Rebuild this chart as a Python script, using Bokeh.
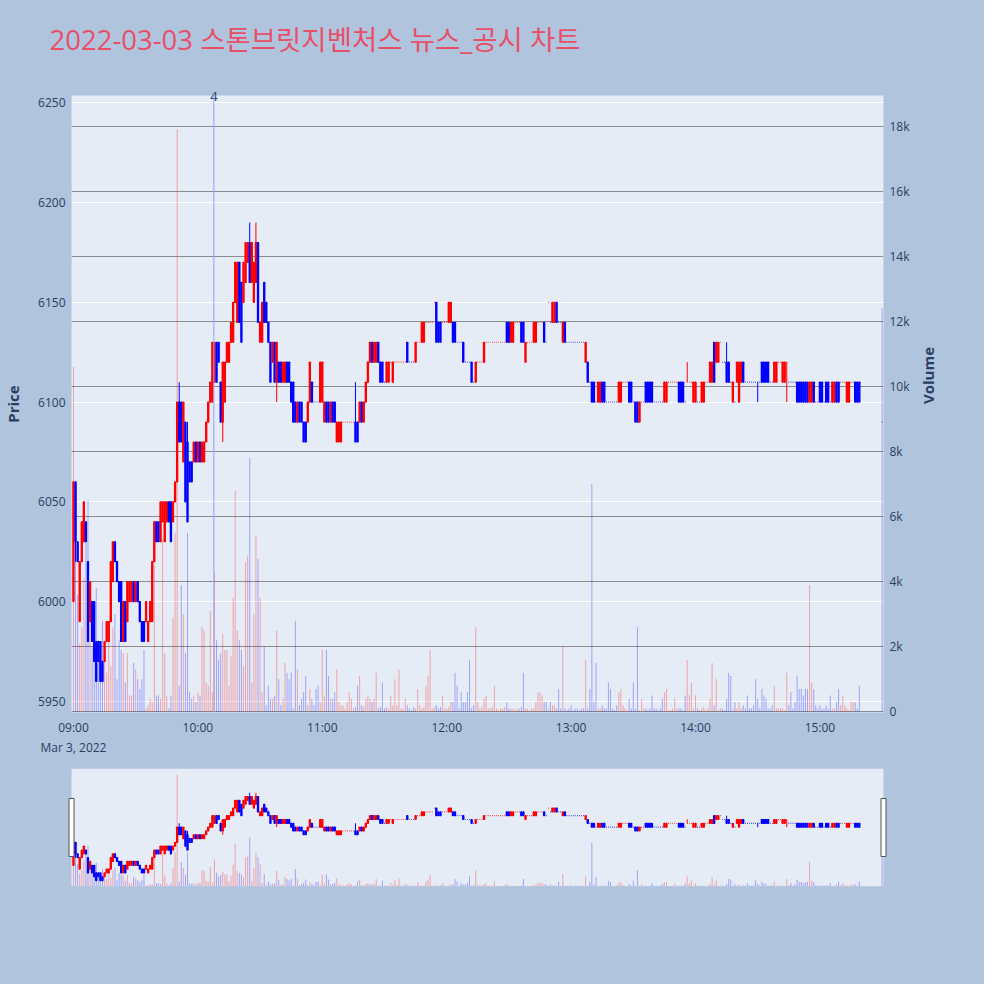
import math
from bokeh.plotting import figure
from bokeh.models import ColumnDataSource, Range1d, LinearAxis, FixedTicker, Grid, Span
from bokeh.layouts import column
from bokeh.embed import file_html
from bokeh.resources import INLINE

title_text = "2022-03-03 스톤브릿지벤처스 뉴스_공시 차트"

# minute offsets from 09:00 (continuous session 09:00-15:19, closing auction 15:30)
minutes = list(range(0, 380)) + [390]

opens = [
    6000, 6060, 6030, 5990, 6020, 6030, 6040, 6020, 5990, 6000,
    6000, 5980, 5980, 5980, 5970, 5970, 5980, 5980, 5990, 6010,
    6030, 6020, 6010, 6010, 5980, 6000, 5990, 6000, 6000, 6010,
    6000, 6010, 6000, 5990, 5990, 5990, 5980, 5990, 5990, 6020,
    6040, 6040, 6030, 6040, 6030, 6040, 6050, 6050, 6040, 6050,
    6060, 6100, 6100, 6070, 6090, 6080, 6070, 6070, 6070, 6080,
    6070, 6080, 6070, 6070, 6080, 6090, 6100, 6100, 6110, 6130,
    6130, 6110, 6090, 6100, 6120, 6120, 6130, 6130, 6150, 6140,
    6170, 6160, 6150, 6160, 6170, 6180, 6160, 6150, 6160, 6180,
    6130, 6130, 6160, 6150, 6140, 6130, 6120, 6130, 6110, 6120,
    6120, 6110, 6110, 6120, 6120, 6110, 6110, 6100, 6090, 6100,
    6100, 6090, 6090, 6090, 6100, 6110, 6100, 6100, 6100, 6100,
    6100, 6090, 6100, 6100, 6090, 6100, 6100, 6080, 6080, 6080,
    6090, 6090, 6090, 6090, 6090, 6090, 6090, 6090, 6090, 6100,
    6090, 6100, 6110, 6120, 6130, 6120, 6120, 6130, 6120, 6120,
    6110, 6110, 6110, 6120, 6110, 6120, 6120, 6120, 6120, 6120,
    6120, 6130, 6120, 6120, 6120, 6120, 6130, 6130, 6130, 6130,
    6140, 6140, 6140, 6140, 6150, 6150, 6140, 6140, 6140, 6140,
    6140, 6140, 6140, 6140, 6140, 6130, 6130, 6130, 6130, 6120,
    6120, 6120, 6120, 6110, 6110, 6120, 6120, 6120, 6120, 6130,
    6130, 6130, 6130, 6130, 6130, 6130, 6130, 6130, 6130, 6140,
    6140, 6130, 6130, 6140, 6140, 6140, 6140, 6140, 6120, 6130,
    6130, 6130, 6130, 6130, 6140, 6140, 6140, 6140, 6130, 6150,
    6140, 6140, 6140, 6150, 6140, 6140, 6130, 6140, 6130, 6130,
    6130, 6130, 6130, 6130, 6130, 6130, 6130, 6120, 6120, 6110,
    6110, 6110, 6100, 6100, 6100, 6110, 6110, 6100, 6100, 6100,
    6100, 6100, 6100, 6100, 6100, 6110, 6110, 6110, 6110, 6110,
    6100, 6100, 6100, 6090, 6100, 6100, 6110, 6110, 6110, 6110,
    6100, 6100, 6100, 6100, 6100, 6100, 6100, 6110, 6110, 6110,
    6110, 6110, 6110, 6110, 6110, 6100, 6110, 6110, 6110, 6100,
    6100, 6100, 6100, 6100, 6100, 6110, 6110, 6110, 6110, 6130,
    6120, 6120, 6130, 6120, 6120, 6120, 6120, 6110, 6100, 6100,
    6110, 6100, 6110, 6120, 6110, 6110, 6110, 6110, 6110, 6110,
    6110, 6110, 6120, 6120, 6120, 6120, 6110, 6110, 6110, 6110,
    6120, 6120, 6110, 6110, 6120, 6110, 6110, 6110, 6110, 6110,
    6110, 6110, 6110, 6110, 6110, 6100, 6100, 6110, 6100, 6100,
    6110, 6110, 6100, 6110, 6110, 6100, 6100, 6100, 6110, 6110,
    6110, 6110, 6110, 6100, 6100, 6110, 6110, 6110, 6110, 6110,
    6090,
]

closes = [
    6060, 6030, 6020, 6020, 6040, 6050, 6030, 5980, 6010, 5980,
    5970, 5960, 5970, 5960, 5960, 5980, 5990, 5990, 6020, 6030,
    6020, 6010, 6000, 5980, 6000, 5980, 6010, 6010, 6010, 6000,
    6010, 6000, 5990, 5980, 5980, 6000, 5990, 6000, 6020, 6040,
    6030, 6030, 6050, 6050, 6050, 6050, 6040, 6030, 6050, 6060,
    6100, 6080, 6080, 6100, 6050, 6040, 6060, 6060, 6080, 6070,
    6080, 6070, 6080, 6080, 6090, 6100, 6110, 6130, 6130, 6110,
    6120, 6090, 6120, 6120, 6130, 6130, 6140, 6150, 6170, 6170,
    6140, 6130, 6170, 6180, 6180, 6160, 6180, 6170, 6180, 6140,
    6140, 6150, 6140, 6140, 6130, 6110, 6130, 6110, 6130, 6110,
    6110, 6120, 6120, 6110, 6110, 6100, 6090, 6090, 6100, 6090,
    6090, 6080, 6080, 6100, 6120, 6100, 6100, 6100, 6100, 6120,
    6120, 6100, 6090, 6090, 6100, 6090, 6090, 6090, 6090, 6090,
    6090, 6090, 6090, 6090, 6090, 6090, 6080, 6080, 6100, 6090,
    6100, 6110, 6120, 6130, 6120, 6130, 6130, 6120, 6110, 6110,
    6110, 6120, 6120, 6120, 6120, 6120, 6120, 6120, 6120, 6120,
    6120, 6120, 6120, 6120, 6120, 6130, 6130, 6130, 6140, 6140,
    6140, 6140, 6140, 6140, 6150, 6130, 6130, 6130, 6140, 6140,
    6140, 6150, 6150, 6130, 6130, 6130, 6130, 6130, 6120, 6120,
    6120, 6120, 6110, 6110, 6120, 6120, 6120, 6120, 6130, 6130,
    6130, 6130, 6130, 6130, 6130, 6130, 6130, 6130, 6130, 6130,
    6130, 6140, 6140, 6140, 6140, 6140, 6130, 6130, 6130, 6130,
    6130, 6130, 6140, 6140, 6140, 6140, 6140, 6130, 6130, 6150,
    6140, 6150, 6150, 6140, 6140, 6140, 6140, 6130, 6130, 6130,
    6130, 6130, 6130, 6130, 6130, 6130, 6130, 6130, 6110, 6110,
    6100, 6100, 6100, 6110, 6110, 6100, 6100, 6100, 6100, 6100,
    6100, 6100, 6100, 6110, 6110, 6110, 6110, 6110, 6100, 6100,
    6100, 6090, 6090, 6100, 6100, 6100, 6100, 6100, 6100, 6100,
    6100, 6100, 6100, 6100, 6100, 6110, 6110, 6110, 6110, 6110,
    6110, 6110, 6100, 6100, 6100, 6100, 6110, 6110, 6110, 6110,
    6110, 6100, 6100, 6110, 6110, 6110, 6110, 6120, 6120, 6110,
    6130, 6130, 6130, 6120, 6120, 6110, 6110, 6110, 6110, 6100,
    6120, 6120, 6120, 6110, 6110, 6110, 6110, 6110, 6110, 6110,
    6110, 6110, 6110, 6110, 6110, 6110, 6110, 6110, 6120, 6120,
    6120, 6120, 6120, 6120, 6120, 6110, 6110, 6110, 6110, 6100,
    6100, 6100, 6100, 6100, 6100, 6110, 6110, 6100, 6100, 6100,
    6100, 6100, 6100, 6100, 6100, 6100, 6110, 6110, 6100, 6100,
    6110, 6110, 6110, 6110, 6110, 6110, 6110, 6100, 6100, 6100,
    6090,
]

# wick extremes that reach beyond the candle body (minute -> price)
wick_highs = {51: 6110, 55: 6090, 85: 6190, 88: 6190, 136: 6110, 296: 6120, 315: 6130}
wick_lows = {1: 6020, 72: 6080, 98: 6100, 330: 6100, 344: 6100}

volumes = [
    10600, 5000, 3600, 2100, 2600, 4100, 5300, 6500, 3800, 2000,
    3200, 3800, 2200, 1500, 2800, 1600, 1200, 2400, 1400, 2600,
    3000, 1000, 2200, 1900, 1800, 900, 1800, 500, 500, 1500,
    1300, 1000, 700, 1000, 1900, 100, 200, 400, 300, 4500,
    500, 500, 400, 5300, 1800, 500, 100, 500, 2900, 5500,
    17900, 800, 3900, 3000, 1800, 5500, 600, 400, 500, 300,
    600, 500, 2600, 2500, 900, 800, 3100, 600, 4300, 2200,
    1600, 1800, 2400, 1900, 1900, 800, 1700, 3500, 6800, 2500,
    2200, 1900, 1400, 4600, 4800, 7800, 900, 3000, 5400, 4700,
    3500, 600, 2000, 200, 800, 400, 400, 500, 2500, 1000,
    200, 400, 1500, 1200, 1000, 1200, 100, 2800, 1300, 200,
    400, 600, 1100, 200, 700, 400, 200, 700, 800, 300,
    1900, 500, 1900, 1100, 400, 400, 600, 1300, 300, 200,
    200, 100, 300, 600, 400, 100, 150, 800, 1100, 200,
    150, 400, 500, 400, 300, 400, 1200, 100, 150, 900,
    100, 150, 100, 500, 200, 1000, 200, 1300, 100, 100,
    400, 200, 100, 50, 150, 100, 700, 200, 100, 150,
    800, 1100, 1900, 100, 150, 200, 100, 150, 500, 100,
    100, 150, 300, 300, 1200, 800, 100, 600, 300, 300,
    600, 1600, 100, 200, 2600, 300, 100, 150, 400, 500,
    100, 100, 150, 800, 100, 50, 100, 100, 150, 300,
    100, 100, 100, 50, 100, 100, 150, 1200, 100, 100,
    50, 100, 100, 300, 600, 600, 500, 300, 300, 100,
    300, 200, 200, 100, 700, 100, 2000, 100, 50, 100,
    200, 50, 100, 100, 50, 100, 100, 1600, 100, 700,
    7000, 300, 1500, 100, 100, 200, 100, 100, 900, 700,
    100, 50, 200, 600, 700, 200, 100, 50, 400, 100,
    900, 100, 2600, 50, 400, 100, 100, 50, 100, 500,
    100, 100, 50, 100, 400, 600, 700, 50, 50, 100,
    400, 100, 100, 100, 50, 500, 1600, 500, 900, 100,
    500, 100, 50, 100, 150, 50, 100, 400, 1500, 200,
    1000, 50, 100, 100, 50, 400, 1200, 1100, 100, 300,
    100, 300, 100, 200, 100, 500, 100, 100, 200, 1000,
    400, 100, 700, 500, 400, 100, 100, 200, 800, 100,
    100, 100, 100, 50, 1200, 200, 600, 100, 300, 1100,
    700, 700, 500, 700, 700, 3900, 900, 700, 200, 100,
    200, 100, 100, 200, 100, 500, 100, 100, 300, 700,
    200, 500, 200, 100, 50, 300, 300, 300, 100, 800,
    12400,
]

price_ticks = [5950, 6000, 6050, 6100, 6150, 6200, 6250]
volume_ticks = [0, 2000, 4000, 6000, 8000, 10000, 12000, 14000, 16000, 18000]
volume_tick_labels = ["0", "2k", "4k", "6k", "8k", "10k", "12k", "14k", "16k", "18k"]
hour_ticks = [0, 60, 120, 180, 240, 300, 360]
hour_labels = ["09:00\nMar 3, 2022", "10:00", "11:00", "12:00", "13:00", "14:00", "15:00"]
news_minutes = [67.7]
news_labels = ["4"]

assert len(opens) == len(closes) == len(volumes) == len(minutes)

RED, BLUE = "#ff0000", "#0000ff"
PAPER, PLOTBG, FONT_C = "#b0c4de", "#e5ecf6", "#2a3f5f"

colors = []
prev_c, prev_col = None, RED
for o, c in zip(opens, closes):
    if c > o:
        col = RED
    elif c < o:
        col = BLUE
    elif prev_c is None or c == prev_c:
        col = prev_col
    else:
        col = RED if c > prev_c else BLUE
    colors.append(col)
    prev_c, prev_col = c, col

highs = [wick_highs.get(m, max(o, c)) for m, o, c in zip(minutes, opens, closes)]
lows = [wick_lows.get(m, min(o, c)) for m, o, c in zip(minutes, opens, closes)]
tops = [max(o, c) for o, c in zip(opens, closes)]
bottoms = [min(o, c) for o, c in zip(opens, closes)]
body_w = [0.55 if o != c else 0.3 for o, c in zip(opens, closes)]

src = ColumnDataSource(dict(x=minutes, top=tops, bottom=bottoms, high=highs, low=lows,
                            color=colors, vol=volumes, bw=body_w))

X0, X1 = -0.95, 390.66
P0, P1 = 5944.4, 6253.7
V0, V1 = -20, 18940

FRAME_W = 812
PX_PER_MIN = FRAME_W / (X1 - X0)


def style_blank(fig):
    fig.background_fill_color = PAPER
    fig.border_fill_color = PAPER
    fig.outline_line_color = None
    fig.grid.visible = False
    fig.frame_align = False


def draw(fig):
    fig.vbar(x="x", bottom=0, top="vol", width=0.5, y_range_name="vol",
             fill_color="color", fill_alpha=0.3, line_color=None, source=src)
    fig.segment(x0="x", y0="low", x1="x", y1="high", line_color="color",
                line_width=1, source=src)
    fig.vbar(x="x", bottom="bottom", top="top", width="bw", fill_color="color",
             line_color="color", line_width=1.2, source=src)


# ---- header strip carrying the chart title
hdr = figure(width=984, height=70, x_range=Range1d(0, 1), y_range=Range1d(0, 1),
             output_backend="svg", toolbar_location=None, title=title_text,
             x_axis_location=None, y_axis_location=None,
             min_border_left=50, min_border_right=10, min_border_top=60, min_border_bottom=0)
style_blank(hdr)
hdr.title.text_font = "Open Sans, Noto Sans CJK KR"
hdr.title.text_font_size = "27.5px"
hdr.title.text_font_style = "normal"
hdr.title.text_color = "#e8506a"
hdr.title.align = "left"
hdr.title.offset = -1
hdr.title.standoff = 5

# ---- main price / volume chart
p = figure(width=984, height=688, x_range=Range1d(X0, X1), y_range=Range1d(P0, P1),
           output_backend="svg", toolbar_location=None,
           min_border_left=71, min_border_right=101, min_border_top=25, min_border_bottom=41)
p.extra_y_ranges = {"vol": Range1d(V0, V1)}
p.background_fill_color = PLOTBG
p.border_fill_color = PAPER
p.outline_line_color = None
p.frame_align = False

time_axis = p.below[0]
price_axis = p.left[0]
time_axis.ticker = FixedTicker(ticks=hour_ticks)
time_axis.major_label_overrides = dict(zip(hour_ticks, hour_labels))
price_axis.ticker = FixedTicker(ticks=price_ticks)
price_axis.axis_label = "Price"

vol_axis = LinearAxis(y_range_name="vol", ticker=FixedTicker(ticks=volume_ticks),
                      axis_label="Volume")
vol_axis.major_label_overrides = dict(zip(volume_ticks, volume_tick_labels))
p.add_layout(vol_axis, "right")

news_axis = LinearAxis(ticker=FixedTicker(ticks=news_minutes))
news_axis.major_label_overrides = dict(zip(news_minutes, news_labels))
p.add_layout(news_axis, "above")

for ax in (time_axis, price_axis, vol_axis, news_axis):
    ax.axis_line_color = None
    ax.major_tick_line_color = None
    ax.minor_tick_line_color = None
    ax.major_tick_out = 0
    ax.major_tick_in = 0
    ax.major_label_standoff = 6
    ax.major_label_text_font = "Open Sans"
    ax.major_label_text_font_size = "12px"
    ax.major_label_text_color = FONT_C
    ax.axis_label_text_font = "Open Sans"
    ax.axis_label_text_font_size = "15px"
    ax.axis_label_text_font_style = "bold"
    ax.axis_label_text_color = FONT_C
price_axis.axis_label_standoff = 12
vol_axis.axis_label_standoff = 15
news_axis.major_label_standoff = -5
news_axis.major_label_text_font_size = "13px"
try:
    vol_axis.axis_label_orientation = math.pi / 2
except Exception:
    pass

p.xgrid.visible = False
p.ygrid.grid_line_color = "white"
p.ygrid.grid_line_width = 1
vol_grid = Grid(dimension=1, ticker=vol_axis.ticker, y_range_name="vol",
                grid_line_color="#8c8c8c", grid_line_width=1.1)
p.add_layout(vol_grid)

draw(p)

for t in news_minutes:
    p.add_layout(Span(location=t, dimension="height", line_color="#93a3f3", line_width=1))

# ---- range slider look-alike
SX = 6 / PX_PER_MIN
p2 = figure(width=984, height=226, x_range=Range1d(X0 - SX, X1 + SX), y_range=Range1d(P0, P1),
            output_backend="svg", toolbar_location=None,
            x_axis_location=None, y_axis_location=None,
            min_border_left=65, min_border_right=95, min_border_top=10, min_border_bottom=98)
p2.extra_y_ranges = {"vol": Range1d(V0, V1)}
style_blank(p2)
p2.quad(left=X0, right=X1, bottom=P0, top=P1, fill_color=PLOTBG, line_color=None)
draw(p2)
p2.rect(x=[X0, X1], y=[(P0 + P1) / 2] * 2, width=5, height=58,
        width_units="screen", height_units="screen",
        fill_color="white", line_color="#555555", line_width=1)

layout = column(hdr, p, p2, spacing=0, styles={"background-color": PAPER})
with open("out.html", "w", encoding="utf-8") as f:
    f.write(file_html(layout, INLINE, title="chart"))
